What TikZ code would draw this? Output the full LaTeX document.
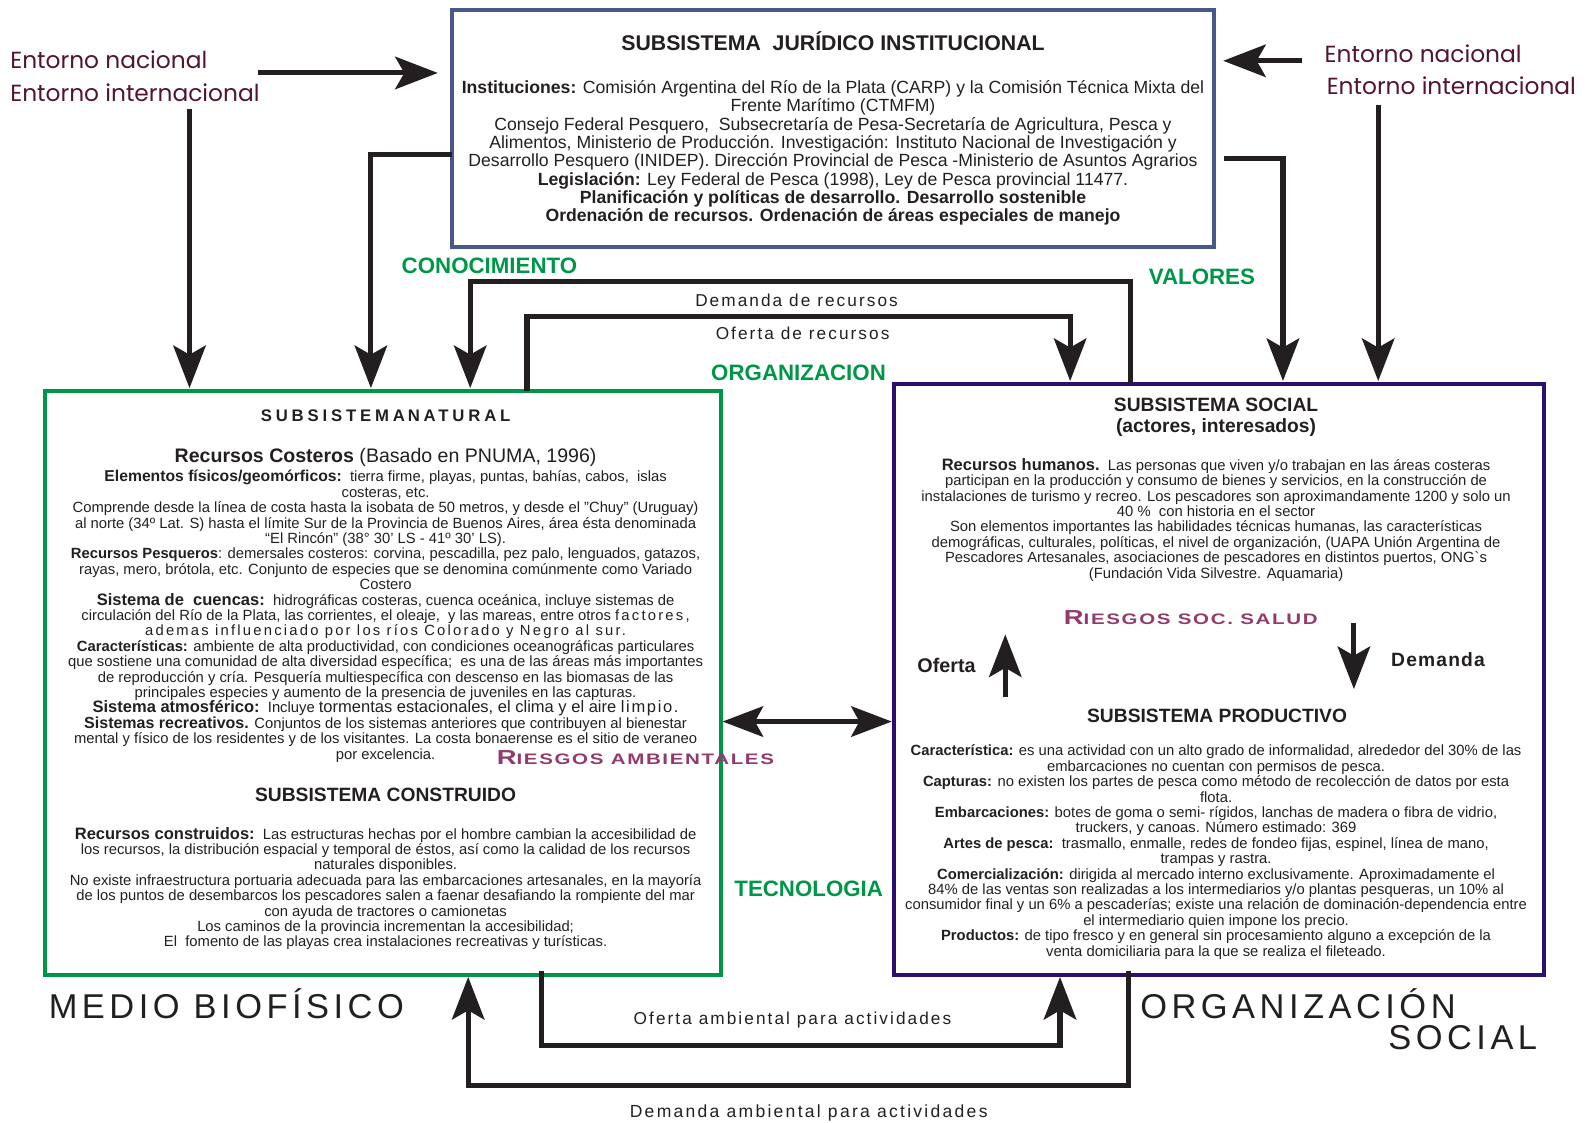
\documentclass[tikz,border=0pt]{standalone}
\usepackage{graphicx}
\usepackage{fontspec}
\setmainfont{Liberation Sans}
\newfontfamily\entornofont{Poppins}
\usetikzlibrary{calc,arrows.meta}

\definecolor{juridicoCol}{RGB}{72,88,138}
\definecolor{naturalCol}{RGB}{0,150,72}
\definecolor{socialCol}{RGB}{44,14,112}
\definecolor{flechaCol}{RGB}{35,31,32}
\definecolor{textoCol}{RGB}{35,31,32}
\definecolor{entornoCol}{RGB}{82,20,50}
\definecolor{verdeCol}{RGB}{0,150,72}
\definecolor{riesgoCol}{RGB}{146,58,108}

\newcommand{\espaciado}[2]{{\addfontfeature{LetterSpace=#1}#2}}
\newcommand{\versalita}[2]{\scalebox{1.35}[1]{\bfseries\addfontfeature{LetterSpace=8}{\fontsize{20}{20}\selectfont #1}{\fontsize{15}{15}\selectfont #2}}}

\begin{document}
\begin{tikzpicture}[x=1pt,y=-1pt,
  caja/.style={rectangle, draw, inner sep=0pt, outer sep=0pt, line width=4pt},
  flujo/.style={draw=flechaCol, line width=5pt, -{Stealth[length=42pt,width=32pt,inset=9pt]}},
  flujodoble/.style={draw=flechaCol, line width=5pt, {Stealth[length=40pt,width=30pt,inset=8pt]}-{Stealth[length=40pt,width=30pt,inset=8pt]}},
  verde/.style={text=verdeCol, font=\bfseries\fontsize{22}{22}\selectfont, inner sep=0pt},
  entorno/.style={text=entornoCol, font=\entornofont\fontsize{23}{32}\selectfont, align=left, inner sep=0pt, anchor=north west},
  cuerpo/.style={text=textoCol, align=center, inner sep=0pt, anchor=north, font=\fontsize{14.6}{15.2}\selectfont},
  titulo/.style={text=textoCol, inner sep=0pt, anchor=base, font=\bfseries\fontsize{19}{20}\selectfont},
  flujotxt/.style={text=textoCol, inner sep=0pt, font=\fontsize{17}{17}\selectfont\addfontfeature{LetterSpace=12}},
  medio/.style={text=textoCol, inner sep=0pt, font=\fontsize{34}{34}\selectfont\addfontfeature{LetterSpace=13}},
  riesgo/.style={text=riesgoCol, inner sep=0pt}]

  \useasboundingbox (0,0) rectangle (1568,1108);

  %% Subsistema juridico institucional
  \node[caja, draw=juridicoCol, line width=3.5pt, minimum width=752pt, minimum height=234pt,
        align=center, text=textoCol, font=\fontsize{17.4}{18.1}\selectfont] (juridico) at (822,127)
  {{\bfseries\fontsize{21}{18}\selectfont SUBSISTEMA\ \ JURÍDICO INSTITUCIONAL}\\[24pt]
   \textbf{Instituciones:} Comisión Argentina del Río de la Plata (CARP) y la Comisión Técnica Mixta del\\
   Frente Marítimo (CTMFM)\\
   Consejo Federal Pesquero,\ \ Subsecretaría de Pesa-Secretaría de Agricultura, Pesca y\\
   Alimentos, Ministerio de Producción. Investigación: Instituto Nacional de Investigación y\\
   Desarrollo Pesquero (INIDEP). Dirección Provincial de Pesca -Ministerio de Asuntos Agrarios\\
   \textbf{Legislación:} Ley Federal de Pesca (1998), Ley de Pesca provincial 11477.\\
   \textbf{Planificación y políticas de desarrollo. Desarrollo sostenible}\\
   \textbf{Ordenación de recursos. Ordenación de áreas especiales de manejo}};

  %% Medio biofisico
  \node[caja, draw=naturalCol, minimum width=667pt, minimum height=576pt] (natural) at (377.5,674) {};
  \node[titulo, font=\bfseries\fontsize{16.5}{20}\selectfont\addfontfeature{LetterSpace=23}] (natTit)
    at ($(natural.north)+(3,30)$) {SUBSISTEMA\,NATURAL};
  \node[cuerpo] (natTxt) at ($(natural.north)+(3,56)$)
  {{\fontsize{19.3}{17}\selectfont\textbf{Recursos Costeros} (Basado en PNUMA, 1996)}\\[3pt]
   {\fontsize{15.5}{15}\selectfont\textbf{Elementos físicos/geomórficos:}}\ \ tierra firme, playas, puntas, bahías, cabos,\ \ islas\\
   costeras, etc.\\
   Comprende desde la línea de costa hasta la isobata de 50 metros, y desde el "Chuy" (Uruguay)\\
   al norte (34º Lat. S) hasta el límite Sur de la Provincia de Buenos Aires, área ésta denominada\\
   “El Rincón” (38° 30' LS - 41º 30' LS).\\
   \textbf{Recursos Pesqueros}: demersales costeros: corvina, pescadilla, pez palo, lenguados, gatazos,\\
   rayas, mero, brótola, etc. Conjunto de especies que se denomina comúnmente como Variado\\
   Costero\\
   {\fontsize{16.3}{15}\selectfont\textbf{Sistema de\ \ cuencas:}}\ \ hidrográficas costeras, cuenca oceánica, incluye sistemas de\\
   circulación del Río de la Plata, las corrientes, el oleaje,\ \ y las mareas, entre otros \espaciado{15}{factores,}\\
   \espaciado{15}{ademas influenciado por los ríos Colorado y Negro al sur.}\\
   \textbf{Características:} ambiente de alta productividad, con condiciones oceanográficas particulares\\
   que sostiene una comunidad de alta diversidad específica;\ \ es una de las áreas más importantes\\
   de reproducción y cría. Pesquería multiespecífica con descenso en las biomasas de las\\
   principales especies y aumento de la presencia de juveniles en las capturas.\\
   {\fontsize{16.3}{15}\selectfont\textbf{Sistema atmosférico:}}\ \ Incluye {\fontsize{16.3}{15}\selectfont tormentas estacionales, el clima y el aire \espaciado{10}{limpio.}}\\
   {\fontsize{15.8}{15}\selectfont\textbf{Sistemas recreativos.}} Conjuntos de los sistemas anteriores que contribuyen al bienestar\\
   mental y físico de los residentes y de los visitantes. La costa bonaerense es el sitio de veraneo\\
   por excelencia.};
  \node[titulo] (consTit) at ($(natural.north)+(3,405)$) {SUBSISTEMA CONSTRUIDO};
  \node[cuerpo] (consTxt) at ($(natural.north)+(3,430)$)
  {{\fontsize{16.3}{15}\selectfont\textbf{Recursos construidos:}}\ \ Las estructuras hechas por el hombre cambian la accesibilidad de\\
   los recursos, la distribución espacial y temporal de éstos, así como la calidad de los recursos\\
   naturales disponibles.\\
   No existe infraestructura portuaria adecuada para las embarcaciones artesanales, en la mayoría\\
   de los puntos de desembarcos los pescadores salen a faenar desafiando la rompiente del mar\\
   con ayuda de tractores o camionetas\\
   Los caminos de la provincia incrementan la accesibilidad;\\
   El\ \ fomento de las playas crea instalaciones recreativas y turísticas.};

  %% Organizacion social
  \node[caja, draw=socialCol, minimum width=642pt, minimum height=583pt] (social) at (1203,670.5) {};
  \node[titulo, anchor=north, align=center, font=\bfseries\fontsize{19}{20}\selectfont] (socTit)
    at ($(social.north)+(-3,14)$) {SUBSISTEMA SOCIAL\\(actores, interesados)};
  \node[cuerpo] (socTxt) at ($(social.north)+(-3,73)$)
  {{\fontsize{16.3}{15}\selectfont\textbf{Recursos humanos.}}\ \ Las personas que viven y/o trabajan en las áreas costeras\\
   participan en la producción y consumo de bienes y servicios, en la construcción de\\
   instalaciones de turismo y recreo. Los pescadores son aproximandamente 1200 y solo un\\
   40 \%\ \ con historia en el sector\\
   Son elementos importantes las habilidades técnicas humanas, las características\\
   demográficas, culturales, políticas, el nivel de organización, (UAPA Unión Argentina de\\
   Pescadores Artesanales, asociaciones de pescadores en distintos puertos, ONG\textasciigrave s\\
   (Fundación Vida Silvestre. Aquamaria)};
  \node[riesgo] (riesgoSoc) at ($(social.north)+(-28,230)$) {\versalita{R}{IESGOS SOC. SALUD}};
  \node[titulo, anchor=center, font=\bfseries\fontsize{19.5}{20}\selectfont] (ofertaLbl) at ($(social.north)+(-269,278)$) {Oferta};
  \node[titulo, anchor=center, font=\bfseries\fontsize{19}{20}\selectfont\addfontfeature{LetterSpace=6}] (demandaLbl)
    at ($(social.north)+(216,272)$) {Demanda};
  \node[titulo] (prodTit) at ($(social.north)+(-2,334)$) {SUBSISTEMA PRODUCTIVO};
  \node[cuerpo] (prodTxt) at ($(social.north)+(-3,356)$)
  {\textbf{Característica:} es una actividad con un alto grado de informalidad, alrededor del 30\% de las\\
   embarcaciones no cuentan con permisos de pesca.\\
   \textbf{Capturas:} no existen los partes de pesca como método de recolección de datos por esta\\
   flota.\\
   \textbf{Embarcaciones:} botes de goma o semi- rígidos, lanchas de madera o fibra de vidrio,\\
   truckers, y canoas. Número estimado: 369\\
   \textbf{Artes de pesca:}\ \ trasmallo, enmalle, redes de fondeo fijas, espinel, línea de mano,\\
   trampas y rastra.\\
   \textbf{Comercialización:} dirigida al mercado interno exclusivamente. Aproximadamente el\\
   84\% de las ventas son realizadas a los intermediarios y/o plantas pesqueras, un 10\% al\\
   consumidor final y un 6\% a pescaderías; existe una relación de dominación-dependencia entre\\
   el intermediario quien impone los precio.\\
   \textbf{Productos:} de tipo fresco y en general sin procesamiento alguno a excepción de la\\
   venta domiciliaria para la que se realiza el fileteado.};

  %% Entornos
  \node[entorno] (entIzq) at (10,50) {Entorno nacional\\Entorno internacional};
  \node[entorno] (entDer) at (1307,44) {Entorno nacional\\\hspace*{2pt}Entorno internacional};
  \coordinate (izqFlecha) at (255,72);
  \coordinate (izqBaja) at (187,108);
  \coordinate (derFlecha) at (1285,60);
  \coordinate (derBaja) at (1360,104);
  \draw[flujo, shorten >=14pt] (izqFlecha) -- (izqFlecha -| juridico.west);
  \draw[flujo, shorten >=3pt] (izqBaja) -- (izqBaja |- natural.north);
  \draw[flujo, shorten >=9pt] (derFlecha) -- (derFlecha -| juridico.east);
  \draw[flujo, shorten >=3pt] (derBaja) -- (derBaja |- social.north);

  %% Del subsistema juridico a los otros
  \draw[flujo, shorten >=3pt] (juridico.west |- 0,152) -| (366,0 |- natural.north);
  \draw[flujo, shorten >=3pt] ([xshift=10pt]juridico.east |- 0,156) -| (1266,0 |- social.north);

  %% Recursos
  \draw[flujo, shorten >=3pt] (1116,0 |- social.north) |- (464,278) -- (464,0 |- natural.north);
  \draw[flujo, shorten >=3pt] (520,0 |- natural.north) |- (1056,312) -- (1056,0 |- social.north);
  \node[flujotxt] (demRec) at (786,296) {Demanda de recursos};
  \node[flujotxt] (ofRec) at (792,329) {Oferta de recursos};

  %% Intercambio y ambiente
  \draw[flujodoble, shorten <=2pt, shorten >=2pt] (natural.east |- 0,712) -- (social.west |- 0,712);
  \draw[flujo, shorten >=2pt] ([yshift=4pt]natural.south -| 534,0) |- (1046,1032) -- (1046,0 |- social.south);
  \draw[flujo, shorten >=2pt] ([yshift=4pt]social.south -| 1114,0) |- (462,1071) -- (462,0 |- natural.south);
  \node[flujotxt] (ofAmb) at (782,1007) {Oferta ambiental para actividades};
  \node[flujotxt, font=\fontsize{17.3}{17}\selectfont\addfontfeature{LetterSpace=13}] (demAmb) at (798,1098) {Demanda ambiental para actividades};

  %% Oferta y demanda productiva
  \coordinate (ofertaIni) at ($(social.north)+(-211,309)$);
  \coordinate (demandaIni) at ($(social.north)+(133,236)$);
  \draw[flujo] (ofertaIni) -- ++(0,-62);
  \draw[flujo] (demandaIni) -- ++(0,65);

  %% Etiquetas
  \foreach \nombre/\x/\y in {CONOCIMIENTO/483/262, VALORES/1186/273, ORGANIZACION/788/368, TECNOLOGIA/798/877}
    \node[verde] (\nombre) at (\x,\y) {\nombre};
  \node[riesgo] (riesgoAmb) at (627,748) {\versalita{R}{IESGOS AMBIENTALES}};
  \node[medio, anchor=west] (medioBio) at (48,990) {MEDIO BIOFÍSICO};
  \node[medio, anchor=west] (orgSoc) at (1125,990) {ORGANIZACIÓN};
  \node[medio, anchor=east] (orgSocB) at (1517,1024) {SOCIAL};
\end{tikzpicture}
\end{document}
